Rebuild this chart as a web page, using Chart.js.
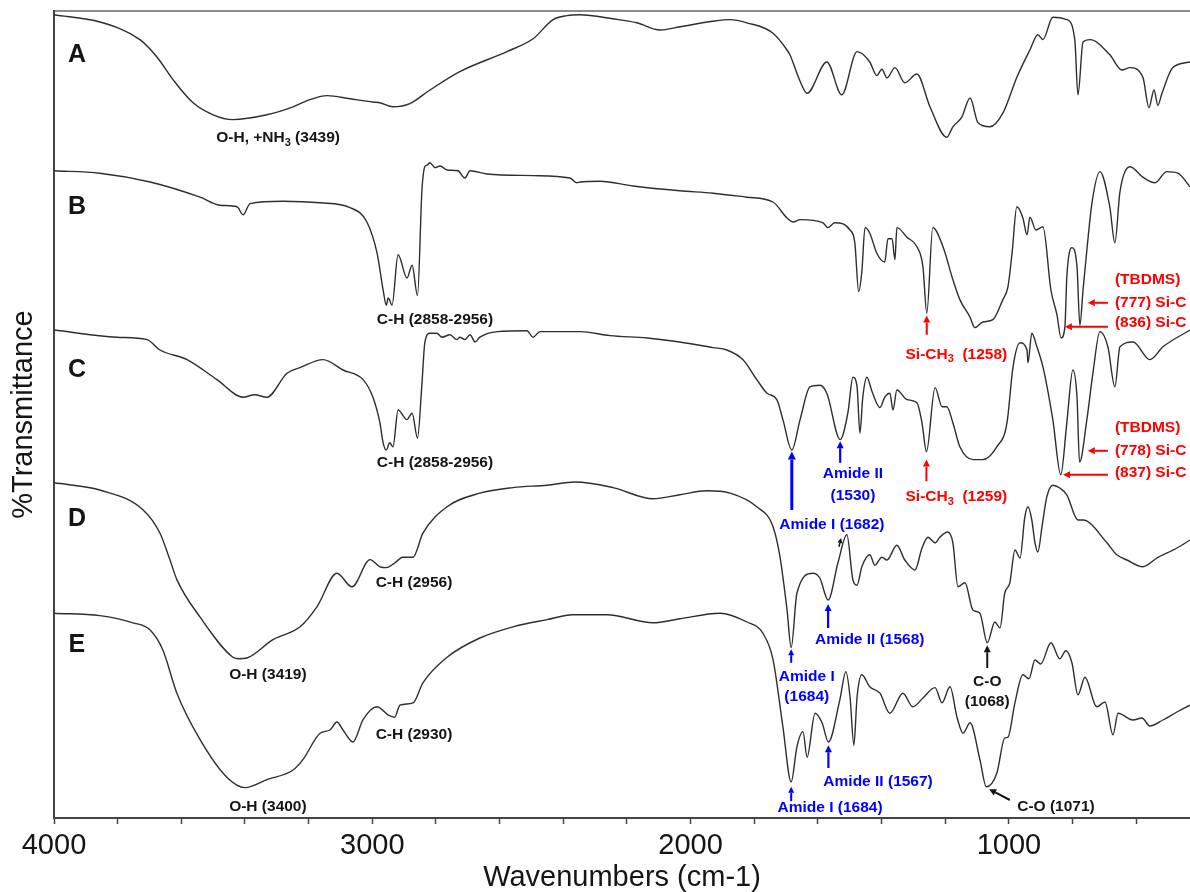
<!DOCTYPE html>
<html>
<head>
<meta charset="utf-8">
<title>FTIR spectra A–E</title>
<script src="https://cdn.jsdelivr.net/npm/chart.js@4.4.1/dist/chart.umd.min.js"></script>
<style>
  html, body { margin: 0; padding: 0; background: #fff; }
  #wrap { width: 1190px; height: 892px; position: relative; }
</style>
</head>
<body>
<div id="wrap"><canvas id="ftir"></canvas></div>
<script>
// ---- Spectra: [wavenumber (cm-1), %T with stacking offset] ----
const traceA = [[4000,100.4],[3856,99.5],[3730,97.3],[3676,95.1],[3626,92.3],[3563,89.4],[3500,87.9],[3439,87.3],[3331,87.9],[3249,88.9],[3196,89.8],[3142,90.3],[3070,89.9],[2998,89.5],[2976,89.4],[2935,88.9],[2882,89.3],[2819,91.0],[2725,93.3],[2577,95.8],[2495,97.4],[2432,99.8],[2388,100.3],[2348,100.4],[2244,99.9],[2169,99.4],[2096,98.5],[2034,98.9],[1930,99.6],[1876,99.8],[1823,99.4],[1741,98.1],[1697,96.0],[1688,95.4],[1656,92.1],[1634,90.6],[1572,94.5],[1525,90.4],[1477,95.8],[1437,94.5],[1415,92.8],[1399,93.6],[1383,92.5],[1358,93.8],[1327,91.9],[1289,93.0],[1248,88.9],[1195,85.1],[1176,86.4],[1148,87.6],[1122,90.0],[1097,86.9],[1060,86.4],[1019,88.1],[975,92.6],[934,96.0],[909,97.9],[893,97.3],[862,100.1],[818,99.8],[793,97.3],[783,90.4],[767,97.0],[745,97.3],[683,95.4],[645,93.5],[620,93.8],[579,92.6],[560,88.8],[544,91.0],[532,89.1],[519,90.6],[485,93.8],[431,94.5]];

const traceB = [[4000,80.9],[3856,80.6],[3698,79.5],[3541,77.6],[3479,76.6],[3425,76.4],[3406,75.4],[3384,76.8],[3281,77.1],[3164,76.9],[3070,76.3],[3017,74.5],[2985,70.6],[2966,66.0],[2956,64.1],[2950,65.0],[2938,64.1],[2919,70.4],[2891,67.5],[2875,69.1],[2858,65.3],[2844,78.5],[2835,81.4],[2828,81.6],[2819,81.9],[2803,81.3],[2787,81.5],[2765,81.0],[2731,80.9],[2709,80.0],[2693,80.9],[2640,80.5],[2495,80.3],[2379,80.0],[2357,79.4],[2348,79.5],[2285,79.6],[2181,79.0],[2034,78.4],[1930,78.1],[1823,77.6],[1741,77.0],[1697,75.0],[1678,74.5],[1656,74.8],[1584,74.4],[1569,73.8],[1547,74.4],[1499,73.5],[1484,71.9],[1472,65.8],[1462,68.3],[1452,73.8],[1437,73.1],[1415,70.6],[1390,69.5],[1380,72.4],[1367,72.4],[1358,69.8],[1352,73.8],[1320,72.6],[1289,71.4],[1270,68.9],[1258,63.1],[1239,73.8],[1207,71.4],[1176,67.3],[1154,64.8],[1122,62.6],[1107,61.3],[1082,62.0],[1050,62.3],[1019,64.8],[1003,66.4],[990,70.6],[975,76.4],[956,75.0],[943,72.9],[934,75.1],[915,73.5],[893,73.9],[868,66.0],[849,62.9],[836,60.0],[824,61.4],[818,67.6],[802,71.3],[786,68.9],[777,61.6],[767,66.0],[755,71.0],[739,76.9],[714,80.8],[683,76.4],[667,71.9],[651,78.3],[620,81.4],[579,80.1],[541,79.4],[504,80.8],[469,80.6],[431,78.9]];

const traceC = [[4000,61.0],[3802,60.1],[3708,59.8],[3667,58.5],[3582,57.3],[3488,54.8],[3406,52.6],[3370,52.9],[3331,52.6],[3268,55.6],[3227,56.3],[3155,57.3],[3092,56.0],[3029,54.8],[2998,52.6],[2976,49.4],[2966,46.9],[2956,46.0],[2945,46.9],[2935,46.4],[2919,51.0],[2891,49.8],[2875,50.6],[2858,47.5],[2844,54.3],[2835,59.4],[2819,60.6],[2797,60.6],[2781,60.1],[2756,60.4],[2734,59.8],[2725,60.1],[2709,59.8],[2693,60.4],[2677,59.5],[2662,60.1],[2608,60.8],[2514,60.9],[2495,60.1],[2473,60.8],[2348,60.8],[2253,60.3],[2137,60.0],[2034,59.5],[1930,58.8],[1886,58.5],[1836,57.3],[1792,54.8],[1760,53.1],[1729,52.3],[1710,49.8],[1682,46.0],[1656,49.8],[1625,53.9],[1594,54.1],[1572,53.1],[1530,47.3],[1506,50.6],[1490,55.1],[1477,53.9],[1468,48.1],[1459,52.6],[1446,55.1],[1430,53.3],[1405,51.3],[1390,52.6],[1374,53.1],[1364,51.0],[1352,53.5],[1320,52.3],[1289,51.9],[1273,49.4],[1259,45.8],[1232,53.8],[1210,51.4],[1195,51.4],[1176,49.4],[1154,46.4],[1113,44.8],[1082,44.8],[1038,46.4],[1006,49.4],[987,56.4],[965,59.4],[943,58.5],[940,56.9],[928,60.6],[912,58.9],[893,56.4],[862,49.8],[837,42.9],[818,49.4],[799,56.0],[786,52.6],[778,44.5],[755,49.8],[736,55.6],[714,60.8],[689,58.9],[667,53.9],[651,58.9],[610,59.5],[557,57.3],[516,58.9],[431,61.0]];

const traceD = [[4000,41.9],[3856,41.0],[3720,38.5],[3667,35.6],[3636,32.3],[3614,29.8],[3541,25.1],[3438,20.1],[3419,19.9],[3394,20.0],[3312,22.3],[3227,23.9],[3174,26.4],[3111,30.6],[3064,28.9],[3007,32.3],[2976,31.4],[2956,31.3],[2929,31.9],[2904,32.6],[2872,32.6],[2841,35.6],[2765,38.9],[2662,40.6],[2558,41.3],[2451,41.6],[2363,42.0],[2244,41.3],[2118,39.9],[2034,40.4],[1949,40.9],[1876,40.6],[1792,38.9],[1741,36.4],[1719,32.6],[1697,26.0],[1684,21.3],[1666,28.1],[1616,30.6],[1594,30.0],[1568,27.25],[1537,31.9],[1509,35.4],[1490,29.75],[1477,29.1],[1462,31.4],[1437,32.9],[1421,31.6],[1399,32.6],[1383,32.25],[1352,34.1],[1327,32.25],[1295,31.0],[1273,33.75],[1254,35.1],[1232,34.4],[1217,35.1],[1192,35.75],[1176,34.4],[1160,28.9],[1138,29.4],[1113,26.0],[1091,25.6],[1068,21.9],[1044,24.5],[1028,23.75],[1013,28.1],[997,29.4],[981,33.5],[965,32.5],[950,37.6],[940,38.9],[928,37.25],[918,34.4],[909,33.25],[896,36.4],[881,40.1],[862,41.6],[840,41.25],[818,40.4],[783,37.25],[767,37.25],[692,34.4],[661,32.9],[629,32.25],[579,31.4],[535,32.5],[472,33.75],[431,34.75]];

const traceE = [[4000,25.6],[3856,25.3],[3752,24.4],[3698,23.5],[3658,21.0],[3614,15.6],[3541,9.8],[3457,5.1],[3400,3.8],[3331,4.8],[3249,6.0],[3218,7.3],[3164,10.6],[3133,11.0],[3111,12.0],[3092,11.0],[3061,9.5],[3029,12.3],[2985,13.9],[2951,12.9],[2930,12.6],[2913,14.1],[2872,14.4],[2841,16.9],[2765,20.1],[2662,22.5],[2558,23.9],[2451,24.8],[2370,25.4],[2263,25.4],[2118,24.4],[2034,24.9],[1908,25.6],[1823,24.5],[1773,23.1],[1741,19.8],[1710,11.4],[1684,4.5],[1666,8.9],[1647,10.8],[1634,7.6],[1609,13.1],[1587,11.9],[1567,9.5],[1531,14.8],[1512,18.3],[1499,15.1],[1487,9.1],[1477,15.1],[1462,17.9],[1437,16.4],[1405,15.6],[1374,13.1],[1333,15.6],[1302,13.9],[1270,15.0],[1232,16.3],[1210,14.4],[1185,16.4],[1163,12.6],[1144,10.6],[1122,11.9],[1091,7.3],[1071,3.9],[1038,5.6],[1013,10.0],[1003,10.1],[981,14.4],[956,17.9],[937,17.4],[918,19.75],[900,19.25],[868,21.9],[840,19.9],[821,20.9],[802,19.4],[783,15.4],[761,17.6],[724,13.9],[698,14.5],[673,10.4],[657,13.1],[610,12.25],[582,12.5],[557,11.5],[516,12.25],[472,13.25],[431,14.1]];

// ---- Axis ticks ----
const tickValues = [4000,3800,3600,3400,3200,3000,2800,2600,2400,2200,2000,1800,1600,1400,1200,1000,800,600];
const tickLabels = [4000,3000,2000,1000];

// ---- Sample letters and band assignments (wavenumber, %T position) ----
const INK = '#151515', RED = '#ff0000', BLUE = '#0000ff';
const sampleTags = [['A',3928,95.4],['B',3928,76.4],['C',3928,56.0],['D',3928,37.3],['E',3928,21.6]];
const bandNotes = [
  {text:'O-H, +NH_3 (3439)', wn:3296, t:85.0, color:INK},
  {text:'C-H (2858-2956)', wn:2803, t:62.25, color:INK},
  {text:'C-H (2858-2956)', wn:2803, t:44.4, color:INK},
  {text:'C-H (2956)', wn:2869, t:29.4, color:INK},
  {text:'C-H (2930)', wn:2869, t:10.4, color:INK},
  {text:'O-H (3419)', wn:3328, t:17.9, color:INK},
  {text:'O-H (3400)', wn:3328, t:1.4, color:INK},
  {text:'Si-CH_3  (1258)', wn:1165, t:57.9, color:RED},
  {text:'(TBDMS)', wn:667, t:67.25, color:RED, align:'left'},
  {text:'(777) Si-C', wn:667, t:64.4, color:RED, align:'left'},
  {text:'(836) Si-C', wn:667, t:61.9, color:RED, align:'left'},
  {text:'(TBDMS)', wn:667, t:48.75, color:RED, align:'left'},
  {text:'(778) Si-C', wn:667, t:45.9, color:RED, align:'left'},
  {text:'(837) Si-C', wn:667, t:43.1, color:RED, align:'left'},
  {text:'Si-CH_3  (1259)', wn:1165, t:40.1, color:RED},
  {text:'Amide I (1682)', wn:1556, t:36.6, color:BLUE},
  {text:'Amide II', wn:1490, t:43.0, color:BLUE},
  {text:'(1530)', wn:1490, t:40.25, color:BLUE},
  {text:'Amide I', wn:1635, t:17.6, color:BLUE},
  {text:'(1684)', wn:1635, t:15.1, color:BLUE},
  {text:'Amide II (1568)', wn:1437, t:22.25, color:BLUE},
  {text:'C-O', wn:1068, t:17.0, color:INK},
  {text:'(1068)', wn:1068, t:14.5, color:INK},
  {text:'Amide I (1684)', wn:1562, t:1.25, color:BLUE},
  {text:'Amide II (1567)', wn:1411, t:4.5, color:BLUE},
  {text:'C-O (1071)', wn:852, t:1.4, color:INK}
];
const bandArrows = [
  {from:[1258,60.4], to:[1258,62.8], color:RED, w:2, head:7},
  {from:[689,64.4], to:[752,64.4], color:RED, w:2, head:7},
  {from:[689,61.4], to:[824,61.4], color:RED, w:2, head:7},
  {from:[689,45.9], to:[752,45.9], color:RED, w:2, head:7},
  {from:[689,42.9], to:[830,42.9], color:RED, w:2, head:7},
  {from:[1259,42.1], to:[1259,44.8], color:RED, w:2, head:7},
  {from:[1682,38.5], to:[1682,45.8], color:BLUE, w:3, head:8},
  {from:[1530,44.4], to:[1530,47.1], color:BLUE, w:2.2, head:7},
  {from:[1684,19.4], to:[1684,21.1], color:BLUE, w:2, head:6},
  {from:[1568,23.75], to:[1568,26.75], color:BLUE, w:2.2, head:7},
  {from:[1068,18.75], to:[1068,21.6], color:INK, w:2, head:7},
  {from:[1684,2.1], to:[1684,3.9], color:BLUE, w:2, head:6},
  {from:[1567,6.25], to:[1567,9.1], color:BLUE, w:2.2, head:7},
  {from:[997,2.25], to:[1062,3.6], color:INK, w:2, head:7},
  {from:[1534,33.9], to:[1527,35.0], color:INK, w:1.5, head:5}
];

const FONT = "'Liberation Sans', Arial, Helvetica, sans-serif";

function drawRich(ctx, text, x, y, size, color, align) {
  const parts = text.split(/_(\d)/); // odd entries are subscripts
  const normal = 'bold ' + size + 'px ' + FONT;
  const small = 'bold ' + Math.round(size * 0.68) + 'px ' + FONT;
  let total = 0;
  parts.forEach((p, i) => { ctx.font = i % 2 ? small : normal; total += ctx.measureText(p).width; });
  let cx = align === 'left' ? x : x - total / 2;
  ctx.fillStyle = color;
  ctx.textAlign = 'left';
  ctx.textBaseline = 'middle';
  parts.forEach((p, i) => {
    ctx.font = i % 2 ? small : normal;
    ctx.fillText(p, cx, y + (i % 2 ? size * 0.3 : 0));
    cx += ctx.measureText(p).width;
  });
}

function drawArrow(ctx, x0, y0, x1, y1, color, w, head) {
  const ang = Math.atan2(y1 - y0, x1 - x0);
  const hw = head * 0.5;
  const bx = x1 - Math.cos(ang) * head, by = y1 - Math.sin(ang) * head;
  ctx.strokeStyle = color;
  ctx.lineWidth = w;
  ctx.beginPath(); ctx.moveTo(x0, y0); ctx.lineTo(bx, by); ctx.stroke();
  ctx.fillStyle = color;
  ctx.beginPath();
  ctx.moveTo(x1, y1);
  ctx.lineTo(bx + Math.sin(ang) * hw, by - Math.cos(ang) * hw);
  ctx.lineTo(bx - Math.sin(ang) * hw, by + Math.cos(ang) * hw);
  ctx.closePath(); ctx.fill();
}

const annotationLayer = {
  id: 'annotationLayer',
  afterDatasetsDraw(chart) {
    const {ctx, scales: {x, y}} = chart;
    ctx.save();
    sampleTags.forEach(([s, wn, t]) => {
      ctx.font = 'bold 25px ' + FONT;
      ctx.fillStyle = INK; ctx.textAlign = 'center'; ctx.textBaseline = 'middle';
      ctx.fillText(s, x.getPixelForValue(wn), y.getPixelForValue(t));
    });
    bandNotes.forEach(n => drawRich(ctx, n.text, x.getPixelForValue(n.wn), y.getPixelForValue(n.t), 15.5, n.color, n.align));
    bandArrows.forEach(a => drawArrow(ctx,
      x.getPixelForValue(a.from[0]), y.getPixelForValue(a.from[1]),
      x.getPixelForValue(a.to[0]), y.getPixelForValue(a.to[1]), a.color, a.w, a.head));
    ctx.restore();
  }
};

const toPoints = arr => arr.map(([wn, t]) => ({x: wn, y: t}));
const lineStyle = {borderColor: '#2e2e2e', borderWidth: 1.4, pointRadius: 0, fill: false, cubicInterpolationMode: 'monotone'};

new Chart(document.getElementById('ftir'), {
  type: 'line',
  data: {
    datasets: [
      {label: 'A', data: toPoints(traceA), ...lineStyle},
      {label: 'B', data: toPoints(traceB), ...lineStyle},
      {label: 'C', data: toPoints(traceC), ...lineStyle},
      {label: 'D', data: toPoints(traceD), ...lineStyle},
      {label: 'E', data: toPoints(traceE), ...lineStyle}
    ]
  },
  options: {
    responsive: true,
    maintainAspectRatio: false,
    animation: false,
    parsing: false,
    layout: {padding: 0},
    plugins: {legend: {display: false}, tooltip: {enabled: false}},
    scales: {
      x: {
        type: 'linear', position: 'bottom', reverse: true, min: 431, max: 4000,
        afterBuildTicks: s => { s.ticks = tickValues.map(v => ({value: v})); },
        afterFit: s => { s.height = 74; },
        ticks: {
          autoSkip: false, maxRotation: 0, padding: 5, color: INK,
          font: {family: FONT, size: 29},
          callback: v => tickLabels.includes(v) ? String(v) : ''
        },
        grid: {drawOnChartArea: false, drawTicks: true, tickLength: 6, color: '#444', tickWidth: 1.5},
        border: {display: true, color: '#444', width: 2},
        title: {display: true, text: 'Wavenumbers (cm-1)', color: INK,
                font: {family: FONT, size: 29, lineHeight: 1}, padding: {top: 0, bottom: 0}}
      },
      xTop: {
        type: 'linear', position: 'top', reverse: true, min: 431, max: 4000,
        afterFit: s => { s.height = 11; },
        ticks: {display: false},
        grid: {display: false, drawTicks: false},
        border: {display: true, color: '#8c8c8c', width: 2}
      },
      y: {
        min: 0, max: 100.875,
        afterFit: s => { s.width = 54; },
        ticks: {display: false},
        grid: {display: false, drawTicks: false},
        border: {display: true, color: '#444', width: 2},
        title: {display: true, text: '%Transmittance', color: INK,
                font: {family: FONT, size: 29, lineHeight: 1}, padding: {top: 9, bottom: 0}}
      }
    }
  },
  plugins: [annotationLayer]
});
</script>
</body>
</html>
